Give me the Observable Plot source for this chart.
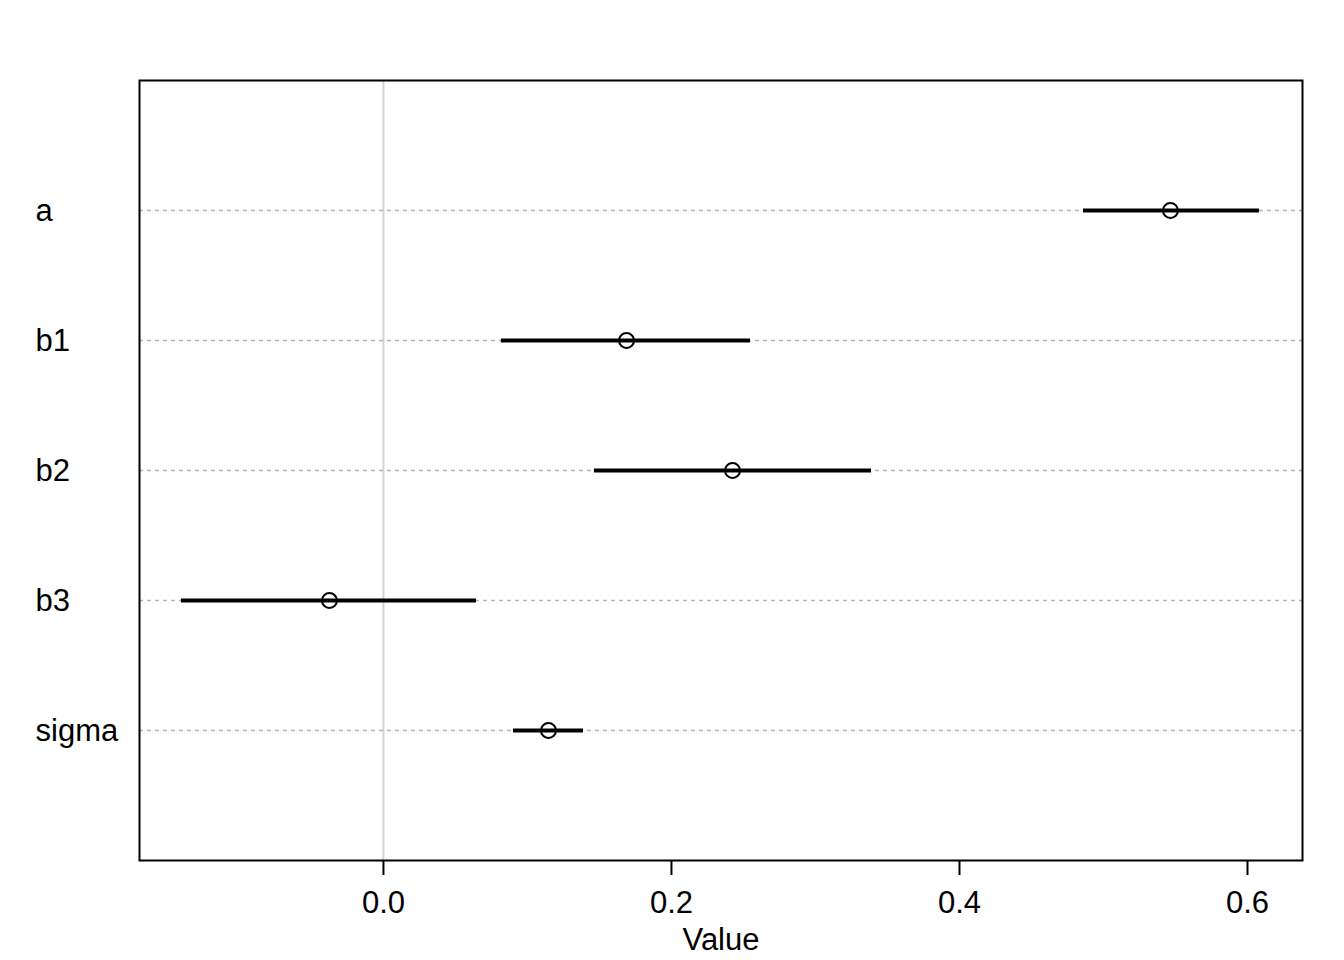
<!DOCTYPE html>
<html>
<head>
<meta charset="utf-8">
<script src="https://cdn.jsdelivr.net/npm/d3@7"></script>
<script src="https://cdn.jsdelivr.net/npm/@observablehq/plot@0.6"></script>
<style>
  html, body { margin: 0; padding: 0; background: white; }
  #chart svg { display: block; }
</style>
</head>
<body>
<div id="chart"></div>
<script>
const params = ["a", "b1", "b2", "b3", "sigma"];
const means  = [0.5465, 0.1688, 0.2424, -0.0375, 0.1146];
const lowers = [0.4861, 0.0819, 0.1465, -0.1403, 0.0903];
const uppers = [0.6083, 0.2549, 0.3389, 0.0646, 0.1389];
const xTicks = [0, 0.2, 0.4, 0.6];

const data = params.map((p, i) => ({name: p, mean: means[i], lo: lowers[i], hi: uppers[i]}));

const chart = Plot.plot({
  width: 1344,
  height: 960,
  marginLeft: 139,
  marginRight: 42,
  marginTop: 80,
  marginBottom: 100,
  style: {fontFamily: "Liberation Sans, Arial, Helvetica, sans-serif", fontSize: "31px", background: "white"},
  x: {domain: [-0.1694, 0.6382], ticks: xTicks, tickFormat: d3.format(".1f"), label: null},
  y: {type: "point", domain: params, padding: 1, axis: null},
  marks: [
    Plot.ruleX([0], {stroke: "#d3d3d3", strokeWidth: 2}),
    Plot.ruleY(params, {y: d => d, stroke: "#b4b4b4", strokeWidth: 1.6, strokeDasharray: "4,4"}),
    Plot.ruleY(data, {y: "name", x1: "lo", x2: "hi", stroke: "black", strokeWidth: 4}),
    Plot.dot(data, {x: "mean", y: "name", r: 7.5, stroke: "black", strokeWidth: 2, fill: "none"}),
    Plot.text(params, {y: d => d, text: d => d, frameAnchor: "left", textAnchor: "start", dx: -104, dy: 1, fill: "black", fontSize: 31}),
    Plot.axisX({ticks: xTicks, tickFormat: d3.format(".1f"), tickSize: 15, tickPadding: 15, strokeWidth: 2, fontSize: 31, label: null}),
    Plot.text(["Value"], {text: d => d, frameAnchor: "bottom", dy: 89, fontSize: 31, fill: "black"}),
    Plot.frame({stroke: "black", strokeWidth: 2})
  ]
});
document.getElementById("chart").appendChild(chart);
</script>
</body>
</html>
